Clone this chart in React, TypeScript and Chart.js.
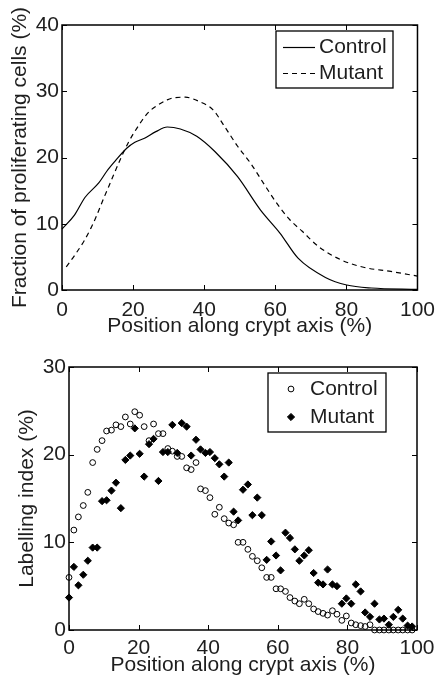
import React, { useEffect, useRef } from 'react';
import { Chart, registerables } from 'chart.js';

Chart.register(...registerables);

const FONT = "'Liberation Sans', Arial, Helvetica, sans-serif";
const TEXT = '#1e1e1e';

// ---- Top panel: fraction of proliferating cells (%) ----
const topControlX = [0, 3.5, 6.5, 10.4, 12.7, 15.0, 18.2, 20.5, 23.2, 26.4, 29.6, 33.3, 37.9, 43.0, 49.4, 55.8, 61.3, 66.4, 74.1, 80.1, 87.0, 100];
const topControlY = [9.2, 11.3, 14.0, 16.2, 18.0, 19.5, 21.4, 22.3, 22.9, 23.9, 24.6, 24.3, 23.2, 20.9, 17.1, 12.1, 8.6, 4.8, 1.9, 0.75, 0.3, 0.1];
const topMutantX = [1.2, 3.9, 6.2, 8.1, 9.4, 11.7, 13.6, 16.3, 18.6, 21.4, 24.1, 26.9, 29.6, 31.9, 34.7, 38.8, 42.5, 45.7, 49.4, 53.1, 56.7, 60.4, 64.1, 67.5, 72.3, 78.7, 85.1, 92.5, 100];
const topMutantY = [3.5, 5.5, 7.4, 9.3, 10.8, 13.8, 16.2, 19.6, 22.2, 24.7, 26.7, 27.9, 28.7, 29.05, 29.1, 28.4, 27.2, 24.7, 21.7, 19.1, 16.1, 13.1, 10.6, 8.9, 6.5, 4.5, 3.4, 2.8, 2.1];
const topYTicks = [0, 10, 20, 30, 40];

// ---- Bottom panel: labelling index (%) ----
const positions = [0, 1.4, 2.7, 4.1, 5.4, 6.8, 8.1, 9.5, 10.8, 12.2, 13.5, 14.9, 16.2, 17.6, 18.9, 20.3, 21.6, 23.0, 24.3, 25.7, 27.0, 28.4, 29.7, 31.1, 32.4, 33.8, 35.1, 36.5, 37.8, 39.2, 40.5, 41.9, 43.2, 44.6, 45.9, 47.3, 48.6, 50.0, 51.4, 52.7, 54.1, 55.4, 56.8, 58.1, 59.5, 60.8, 62.2, 63.5, 64.9, 66.2, 67.6, 68.9, 70.3, 71.6, 73.0, 74.3, 75.7, 77.0, 78.4, 79.7, 81.1, 82.4, 83.8, 85.1, 86.5, 87.8, 89.2, 90.5, 91.9, 93.2, 94.6, 95.9, 97.3, 98.6];
const labelControl = [6.0, 11.4, 12.9, 14.2, 15.7, 19.1, 20.6, 21.6, 22.7, 22.8, 23.4, 23.2, 24.3, 23.5, 24.9, 24.5, 23.2, 21.6, 23.5, 22.4, 22.4, 20.7, 20.4, 19.8, 19.8, 18.5, 18.3, 19.1, 16.1, 15.9, 15.1, 13.2, 14.0, 12.7, 12.2, 12.0, 10.0, 10.0, 9.2, 8.4, 7.9, 7.1, 6.0, 6.0, 4.7, 4.7, 4.4, 3.7, 3.3, 3.0, 3.5, 3.0, 2.4, 2.1, 1.9, 1.7, 2.2, 1.8, 1.1, 1.6, 0.8, 0.6, 0.5, 0.4, 0.6, 0, 0, 0, 0, 0, 0, 0, 0, 0];
const labelMutant = [3.7, 7.2, 5.1, 6.3, 7.9, 9.4, 9.4, 14.7, 14.8, 15.9, 16.8, 13.9, 19.4, 19.9, 23.0, 20.1, 17.5, 21.2, 21.8, 17.0, 20.3, 20.3, 23.4, 20.2, 23.6, 23.2, 19.9, 21.7, 20.6, 20.2, 20.3, 19.6, 18.9, 17.5, 19.1, 13.5, 12.5, 16.0, 16.6, 13.1, 15.1, 13.1, 8.0, 10.1, 8.5, 6.8, 11.1, 10.5, 9.2, 7.9, 8.5, 9.1, 6.5, 5.4, 5.2, 6.9, 5.2, 5.0, 3.0, 3.6, 3.0, 5.2, 4.4, 2.0, 1.5, 3.0, 1.2, 1.3, 0.6, 1.5, 2.3, 1.3, 0.5, 0.4];
const bottomYTicks = [0, 10, 20, 30];

const xTicks = [0, 20, 40, 60, 80, 100];
const seriesNames = ['Control', 'Mutant'];
const xTitle = 'Position along crypt axis (%)';

const zip = (xs: number[], ys: number[]) => xs.map((x, i) => ({ x, y: ys[i] }));

// MATLAB-like box with inward ticks on all four sides
const framePlugin = {
  id: 'frameTicks',
  afterDatasetsDraw(chart: any) {
    const { ctx, chartArea: a, scales } = chart;
    ctx.save();
    ctx.strokeStyle = '#000';
    ctx.lineWidth = 1.5;
    ctx.strokeRect(a.left, a.top, a.right - a.left, a.bottom - a.top);
    ctx.lineWidth = 1;
    const L = 5;
    ctx.beginPath();
    scales.x.ticks.forEach((t: any) => {
      const px = Math.round(scales.x.getPixelForValue(t.value)) + 0.5;
      ctx.moveTo(px, a.bottom); ctx.lineTo(px, a.bottom - L);
      ctx.moveTo(px, a.top); ctx.lineTo(px, a.top + L);
    });
    scales.y.ticks.forEach((t: any) => {
      const py = Math.round(scales.y.getPixelForValue(t.value)) + 0.5;
      ctx.moveTo(a.left, py); ctx.lineTo(a.left + L, py);
      ctx.moveTo(a.right, py); ctx.lineTo(a.right - L, py);
    });
    ctx.stroke();
    ctx.restore();
  },
};

type LegendCfg = { box: [number, number, number, number]; rows: number[]; sampleX: [number, number]; textX: number; kind: 'line' | 'point' };

function makeLegend(cfg: LegendCfg) {
  return {
    id: 'boxLegend',
    afterDraw(chart: any) {
      const { ctx } = chart;
      const [bx, by, bw, bh] = cfg.box;
      ctx.save();
      ctx.fillStyle = '#fff';
      ctx.fillRect(bx, by, bw, bh);
      ctx.strokeStyle = '#000';
      ctx.lineWidth = 1.3;
      ctx.strokeRect(bx, by, bw, bh);
      chart.data.datasets.forEach((ds: any, i: number) => {
        const y = cfg.rows[i];
        ctx.save();
        if (cfg.kind === 'line') {
          ctx.strokeStyle = ds.borderColor;
          ctx.lineWidth = ds.borderWidth;
          ctx.setLineDash(ds.borderDash || []);
          ctx.beginPath();
          ctx.moveTo(cfg.sampleX[0], y + 0.5);
          ctx.lineTo(cfg.sampleX[1], y + 0.5);
          ctx.stroke();
        } else {
          const cx = (cfg.sampleX[0] + cfg.sampleX[1]) / 2;
          ctx.strokeStyle = '#000';
          ctx.lineWidth = 1;
          ctx.beginPath();
          if (ds.pointStyle === 'rectRot') {
            const r = ds.pointRadius;
            ctx.moveTo(cx - r, y); ctx.lineTo(cx, y - r); ctx.lineTo(cx + r, y); ctx.lineTo(cx, y + r);
            ctx.closePath();
            ctx.fillStyle = '#000';
            ctx.fill();
            ctx.stroke();
          } else {
            ctx.arc(cx, y, ds.pointRadius, 0, Math.PI * 2);
            ctx.stroke();
          }
        }
        ctx.restore();
        ctx.fillStyle = TEXT;
        ctx.font = `21px ${FONT}`;
        ctx.textAlign = 'left';
        ctx.textBaseline = 'middle';
        ctx.fillText(ds.label, cfg.textX, y);
      });
      ctx.restore();
    },
  };
}

function axisOptions(yMax: number, yTicks: number[], yTitle: string, yWidth: number, yTitlePad: number, xTickPad: number, xTitlePad: number) {
  return {
    x: {
      type: 'linear',
      min: 0,
      max: 100,
      afterBuildTicks: (s: any) => { s.ticks = xTicks.map((v) => ({ value: v })); },
      afterFit: (s: any) => { s.height = 50; },
      grid: { display: false, drawTicks: false },
      border: { display: false },
      ticks: { color: TEXT, font: { family: FONT, size: 21 }, padding: xTickPad, maxRotation: 0, autoSkip: false },
      title: { display: true, text: xTitle, color: TEXT, font: { family: FONT, size: 21 }, padding: { top: 0, bottom: xTitlePad } },
    },
    y: {
      type: 'linear',
      min: 0,
      max: yMax,
      afterBuildTicks: (s: any) => { s.ticks = yTicks.map((v) => ({ value: v })); },
      afterFit: (s: any) => { s.width = yWidth; },
      grid: { display: false, drawTicks: false },
      border: { display: false },
      ticks: { color: TEXT, font: { family: FONT, size: 21 }, padding: 3, autoSkip: false },
      title: { display: true, text: yTitle, color: TEXT, font: { family: FONT, size: 21 }, padding: { top: yTitlePad, bottom: 0 } },
    },
  };
}

function TopChart() {
  const ref = useRef<HTMLCanvasElement>(null);
  useEffect(() => {
    const chart = new Chart(ref.current as HTMLCanvasElement, {
      type: 'line',
      data: {
        datasets: [
          { label: seriesNames[0], data: zip(topControlX, topControlY), borderColor: '#000', borderWidth: 1.2, pointRadius: 0, cubicInterpolationMode: 'monotone', clip: false, fill: false },
          { label: seriesNames[1], data: zip(topMutantX, topMutantY), borderColor: '#000', borderWidth: 1.2, borderDash: [5, 4], pointRadius: 0, cubicInterpolationMode: 'monotone', clip: false, fill: false },
        ],
      } as any,
      options: {
        responsive: false,
        animation: false,
        events: [],
        layout: { padding: { top: 25, right: 17, left: 0, bottom: 0 } },
        plugins: { legend: { display: false }, tooltip: { enabled: false } },
        scales: axisOptions(40, topYTicks, 'Fraction of proliferating cells (%)', 62, 8, 8, 1) as any,
      },
      plugins: [framePlugin, makeLegend({ box: [276, 31, 117, 57], rows: [47, 73], sampleX: [283, 315], textX: 319, kind: 'line' })],
    });
    return () => chart.destroy();
  }, []);
  return <canvas ref={ref} width={443} height={340} style={{ display: 'block' }} />;
}

function BottomChart() {
  const ref = useRef<HTMLCanvasElement>(null);
  useEffect(() => {
    const chart = new Chart(ref.current as HTMLCanvasElement, {
      type: 'scatter',
      data: {
        datasets: [
          { label: seriesNames[0], data: zip(positions, labelControl), pointStyle: 'circle', pointRadius: 2.9, borderWidth: 1, borderColor: '#000', backgroundColor: 'rgba(255,255,255,0)', clip: false, order: 1 },
          { label: seriesNames[1], data: zip(positions, labelMutant), pointStyle: 'rectRot', pointRadius: 3.6, borderWidth: 1, borderColor: '#000', backgroundColor: '#000', clip: false, order: 0 },
        ],
      } as any,
      options: {
        responsive: false,
        animation: false,
        events: [],
        layout: { padding: { top: 27, right: 26, left: 0, bottom: 0 } },
        plugins: { legend: { display: false }, tooltip: { enabled: false } },
        scales: axisOptions(30, bottomYTicks, 'Labelling index (%)', 69, 15, 6, 2.5) as any,
      },
      plugins: [framePlugin, makeLegend({ box: [268, 33, 118, 59], rows: [49, 77], sampleX: [285, 297], textX: 310, kind: 'point' })],
    });
    return () => chart.destroy();
  }, []);
  return <canvas ref={ref} width={443} height={340} style={{ display: 'block' }} />;
}

export default function App() {
  return (
    <div style={{ position: 'absolute', left: 0, top: 0, width: 443, height: 680, background: '#fff' }}>
      <TopChart />
      <BottomChart />
    </div>
  );
}
